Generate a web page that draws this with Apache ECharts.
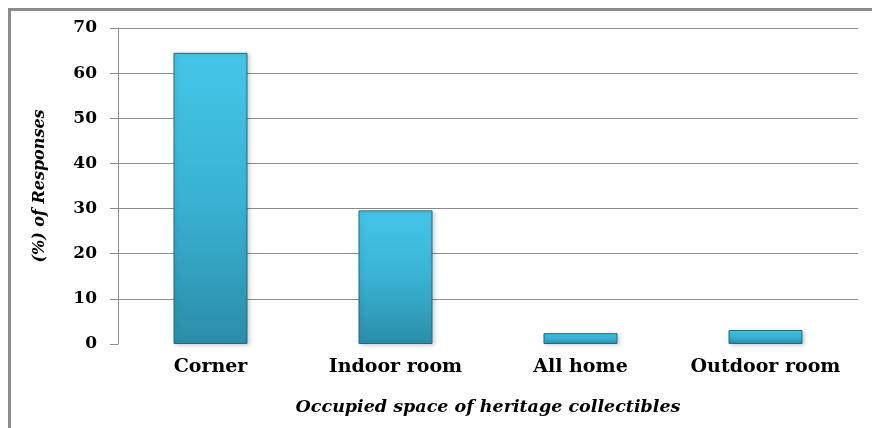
<!DOCTYPE html>
<html>
<head>
<meta charset="utf-8">
<script src="https://cdn.jsdelivr.net/npm/echarts@6/dist/echarts.min.js"></script>
<style>html,body{margin:0;padding:0;background:#fff}#c{width:872px;height:428px}</style>
</head>
<body>
<div id="c"></div>
<script>
const categories = ['Corner', 'Indoor room', 'All home', 'Outdoor room'];
const responses = [64.5, 29.6, 2.4, 3.1];
const yTicks = { min: 0, max: 70, interval: 10 };
const xAxisTitle = 'Occupied space of heritage collectibles';
const yAxisTitle = '(%) of Responses';

const serif = '"DejaVu Serif", "Liberation Serif", serif';
const chart = echarts.init(document.getElementById('c'));
chart.setOption({
  backgroundColor: '#fff',
  animation: false,
  graphic: [{
    type: 'rect', left: 7, top: 7, z: 100,
    shape: { x: 0, y: 0, width: 900, height: 500 },
    style: { fill: 'none', stroke: '#8c8c8c', lineWidth: 3 }
  }],
  grid: { left: 118, right: 14, top: 28, bottom: 84 },
  xAxis: {
    type: 'category',
    data: categories,
    axisLine: { show: false },
    axisTick: { show: false },
    axisLabel: { color: '#000', fontFamily: serif, fontWeight: 'bold', fontSize: 19, margin: 14, interval: 0, hideOverlap: false },
    name: xAxisTitle,
    nameLocation: 'middle',
    nameGap: 54,
    nameTextStyle: { color: '#000', fontFamily: serif, fontWeight: 'bold', fontStyle: 'italic', fontSize: 17.5 }
  },
  yAxis: {
    type: 'value',
    min: yTicks.min, max: yTicks.max, interval: yTicks.interval,
    axisLine: { show: true, lineStyle: { color: '#8c8c8c', width: 1 } },
    axisTick: { show: true, length: 8, lineStyle: { color: '#8c8c8c' } },
    splitLine: { show: true, lineStyle: { color: ['transparent', '#8c8c8c', '#8c8c8c', '#8c8c8c', '#8c8c8c', '#8c8c8c', '#8c8c8c', '#8c8c8c'], width: 1 } },
    axisLabel: { color: '#000', fontFamily: serif, fontWeight: 'bold', fontSize: 17, margin: 21 },
    name: yAxisTitle,
    nameLocation: 'middle',
    nameGap: 70,
    nameTextStyle: { color: '#000', fontFamily: serif, fontWeight: 'bold', fontStyle: 'italic', fontSize: 16 }
  },
  series: [{
    type: 'bar',
    data: responses,
    barWidth: '40%',
    itemStyle: {
      color: new echarts.graphic.LinearGradient(0, 0, 0, 1, [
        { offset: 0, color: '#44c6e8' },
        { offset: 0.5, color: '#39b2d4' },
        { offset: 1, color: '#2b8ea9' }
      ]),
      borderColor: '#1f6a80',
      borderWidth: 1,
      shadowColor: 'rgba(0,0,0,0.18)',
      shadowBlur: 4,
      shadowOffsetX: 2,
      shadowOffsetY: 1
    }
  }]
});
</script>
</body>
</html>
